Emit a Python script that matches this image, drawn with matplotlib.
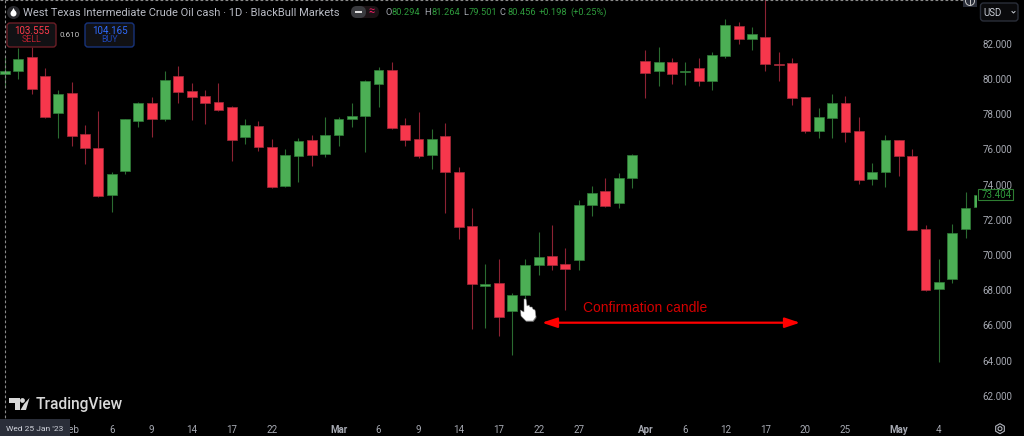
#!/usr/bin/env python3
import matplotlib
matplotlib.use("Agg")
import matplotlib.pyplot as plt
from matplotlib.patches import FancyBboxPatch, Polygon, Circle, RegularPolygon, Rectangle

plt.rcParams['font.family'] = ['Roboto', 'DejaVu Sans']

opens = [80.29, 80.47, 81.26, 80.16, 78.04, 79.22, 76.85, 76.07, 73.42, 74.78,
         77.62, 78.61, 77.74, 80.16, 79.29, 79.03, 78.67, 78.38, 76.70, 77.34,
         76.13, 73.91, 75.64, 76.53, 75.73, 76.83, 77.74, 77.87, 79.73, 80.52,
         77.36, 76.58, 75.69, 76.75, 74.73, 71.64, 68.21, 68.40, 66.83, 67.74,
         69.44, 69.93, 69.46, 69.69, 72.85, 73.63, 72.93, 74.37, 81.01, 80.43,
         80.94, 80.37, 80.62, 79.86, 81.32, 83.00, 82.25, 82.40, 80.84, 80.90,
         78.99, 77.02, 77.78, 78.61, 77.04, 74.33, 74.73, 76.53, 75.62, 71.45,
         68.08, 68.61, 71.45, 72.74]
highs = [81.26, 81.73, 81.83, 80.60, 79.37, 79.84, 77.38, 78.15, 74.71, 77.70,
         78.70, 78.97, 80.47, 80.75, 79.76, 79.37, 79.76, 78.46, 77.72, 77.62,
         76.56, 76.01, 76.62, 76.81, 77.85, 77.85, 78.63, 79.92, 80.65, 80.96,
         77.79, 78.12, 77.13, 77.49, 74.97, 72.64, 69.48, 69.76, 67.85, 69.75,
         71.30, 71.68, 70.37, 73.12, 73.91, 74.39, 74.65, 75.75, 81.62, 81.79,
         81.20, 80.94, 81.17, 81.51, 83.38, 83.23, 82.96, 84.86, 81.51, 81.17,
         78.99, 78.32, 79.12, 79.01, 77.83, 75.20, 76.81, 76.54, 76.00, 71.68,
         69.75, 71.73, 73.57, 73.50]
lows = [79.50, 80.01, 79.14, 77.76, 76.66, 76.20, 75.14, 73.31, 72.45, 74.59,
        77.25, 76.70, 77.62, 78.65, 77.66, 77.43, 78.19, 75.33, 76.30, 75.92,
        73.82, 73.87, 74.12, 75.05, 75.56, 76.18, 77.26, 75.86, 78.38, 77.13,
        76.20, 75.50, 74.88, 72.40, 70.88, 65.81, 65.86, 65.41, 64.33, 67.00,
        68.87, 69.14, 66.89, 69.14, 72.23, 72.74, 72.68, 73.82, 78.93, 79.61,
        79.73, 79.65, 79.61, 79.39, 81.20, 82.00, 81.64, 80.47, 79.90, 78.51,
        76.92, 76.66, 76.66, 76.43, 74.01, 73.97, 73.84, 74.46, 71.41, 67.93,
        63.93, 68.42, 70.96, 72.60]
closes = [80.46, 81.13, 79.40, 77.83, 79.12, 76.77, 76.09, 73.36, 74.61, 77.70,
          78.61, 77.74, 79.92, 79.27, 78.95, 78.65, 78.23, 76.51, 77.36, 76.11,
          73.84, 75.65, 76.45, 75.69, 76.81, 77.72, 77.89, 79.86, 80.50, 77.19,
          76.51, 75.64, 76.58, 74.69, 71.58, 68.32, 68.34, 66.49, 67.72, 69.44,
          69.86, 69.44, 69.21, 72.83, 73.53, 72.77, 74.35, 75.67, 80.35, 80.98,
          80.28, 80.43, 79.86, 81.35, 83.04, 82.26, 82.57, 80.86, 80.81, 78.91,
          77.02, 77.85, 78.61, 77.00, 74.23, 74.69, 76.53, 75.60, 71.41, 68.02,
          68.49, 71.22, 72.66, 73.40]

date_ticks = [5, 8, 11, 14, 17, 20, 25, 28, 31, 34, 37, 40, 43, 48, 51, 54, 57, 60, 63, 67, 70]
date_labels = ['Feb', '6', '9', '14', '17', '22', 'Mar', '6', '9', '14', '17', '22', '27',
               'Apr', '6', '12', '17', '20', '25', 'May', '4']
price_ticks = [62, 64, 66, 68, 70, 72, 74, 76, 78, 80, 82]

RED = '#f7374c'
GREEN = '#4caf55'
RED_WICK = '#8c2233'
GREEN_WICK = '#2a6b30'
GREY = '#a6a9b2'


def draw_candles(ax):
    for i, (o, h, l, c) in enumerate(zip(opens, highs, lows, closes)):
        up = c >= o
        ax.vlines(i, l, h, color=GREEN_WICK if up else RED_WICK, lw=0.8, zorder=2)
        # very thin bodies still need to show up as a dash
        ax.bar(i, max(abs(c - o), 0.05), bottom=min(o, c), width=0.74,
               color=GREEN if up else RED, edgecolor='#2f7d38' if up else '#a52a3a',
               lw=0.5, zorder=3)


def box(ov, x0, y0, x1, y1, edge, face, r=3, lw=1.0):
    ov.add_patch(FancyBboxPatch((x0 + r, y0 + r), x1 - x0 - 2 * r, y1 - y0 - 2 * r,
                                boxstyle=f"round,pad={r},rounding_size={r}",
                                ec=edge, fc=face, lw=lw))


def draw_header(ov):
    # drop icon
    ov.add_patch(Circle((13.5, 12.5), 6.5, fc='#2a2a2e', ec='none'))
    ov.add_patch(Circle((13.5, 13.5), 3, fc='white', ec='none'))
    ov.add_patch(Polygon([(11, 12.5), (13.5, 8), (16, 12.5)], fc='white', ec='none'))
    ov.text(23, 12.5, 'West Texas Intermediate Crude Oil cash · 1D · BlackBull Markets',
            color='#b8bbc4', fontsize=8.0, va='center', ha='left')

    # toggle pill
    box(ov, 351, 6, 379, 18, 'none', '#1c1316', r=6)
    box(ov, 351, 6, 366, 18, 'none', '#3a3b3f', r=6)
    ov.add_patch(Rectangle((355, 11), 7, 2, fc='#e0e0e0', ec='none'))
    ov.text(372, 11.5, '≈', color='#e91e63', fontsize=8, ha='center', va='center')

    parts = [(385, 'O', GREY), (392, '80.294', '#2e9a3c'), (424, 'H', GREY),
             (431, '81.264', '#2e9a3c'), (463, 'L', GREY), (469, '79.501', '#2e9a3c'),
             (500, 'C', GREY), (507, '80.456', '#2e9a3c'),
             (539, '+0.198', '#2e9a3c'), (570, '(+0.25%)', '#2e9a3c')]
    for x, s, col in parts:
        ov.text(x, 12.5, s, color=col, fontsize=6.7, va='center', ha='left')

    # sell / buy buttons
    box(ov, 7, 23, 56, 47, '#6a1e26', '#111114')
    ov.text(31.5, 30.5, '103.555', color='#ff3b4b', fontsize=7, ha='center', va='center')
    ov.text(31.5, 40, 'SELL', color='#b8202e', fontsize=6.4, ha='center', va='center')
    ov.text(70, 35, '0.610', color='#c8c8c8', fontsize=5.8, ha='center', va='center')
    box(ov, 85, 23, 134, 47, '#17337a', '#111114')
    ov.text(109.5, 30.5, '104.165', color='#2f6bff', fontsize=7, ha='center', va='center')
    ov.text(109.5, 40, 'BUY', color='#1e46b4', fontsize=6.4, ha='center', va='center')


def draw_axis_extras(ov):
    # crosshair lines
    ov.plot([4.7, 4.7], [0, 419], color='#8a8a8a', lw=0.8, ls=(0, (2.5, 2)))
    ov.plot([0, 963], [0.5, 0.5], color='#8a8a8a', lw=0.8, ls=(0, (2.5, 2)))

    # date label under the crosshair
    ov.add_patch(Rectangle((0, 419), 70, 17, fc='#2a2e39', ec='none'))
    ov.text(6, 429, "Wed 25 Jan '23", color='#d1d4dc', fontsize=6.0, va='center', ha='left')

    # plus button, currency box, price tag, gear
    ov.add_patch(Rectangle((963, 0), 14, 7, fc='#2a2e39', ec='none'))
    ov.add_patch(Circle((970, 1), 4.5, fc='none', ec='#c8c8c8', lw=0.7))
    ov.plot([970, 970], [0, 4], color='#c8c8c8', lw=0.7)
    box(ov, 980.5, 3, 1018, 21, '#2a2e39', '#0a0a0c')
    ov.text(983, 12.5, 'USD', color='#c8ccd4', fontsize=7, va='center', ha='left')
    ov.plot([1012, 1013.5, 1015], [11.5, 13, 11.5], color='#c8ccd4', lw=0.7)
    ov.add_patch(Rectangle((977.5, 189.5), 35.5, 11, fc='black', ec='#2e7d32', lw=0.8))
    ov.text(997, 195.3, '73.404', color='#2f9a3c', fontsize=7, ha='center', va='center')
    ov.add_patch(RegularPolygon((1000, 428.7), 6, radius=5, fc='none', ec='#b2b5be', lw=0.8))
    ov.add_patch(Circle((1000, 428.7), 2, fc='none', ec='#b2b5be', lw=0.8))


def draw_logo(ov):
    ov.add_patch(Polygon([(9, 398), (20, 398), (20, 410), (15, 410), (15, 403), (9, 403)],
                         fc='#d8d8d8', ec='none'))
    ov.add_patch(Circle((22.5, 400.5), 2.4, fc='#d8d8d8', ec='none'))
    ov.add_patch(Polygon([(24, 404), (29.5, 398), (26, 410), (20.5, 410)], fc='#d8d8d8', ec='none'))
    ov.text(36, 404, 'TradingView', color='#d8d8d8', fontsize=11.2, weight='medium',
            va='center', ha='left')


def draw_annotation(ov):
    ov.annotate('', xy=(800, 322.7), xytext=(542, 322.7),
                arrowprops=dict(arrowstyle='<|-|>,head_length=0.9,head_width=0.3',
                                color='#ff0000', lw=1.6, shrinkA=0, shrinkB=0))
    ov.text(583, 307.5, 'Confirmation candle', color='#d40000', fontsize=10,
            family='Liberation Sans', va='center', ha='left')

    # hand cursor with a soft shadow under it
    hand = [(524, 299), (526, 299), (527, 306), (529, 305), (530, 307), (532, 307), (533, 309),
            (535, 310), (536, 317), (533, 321), (526, 321), (521, 316), (520.5, 310), (524, 312)]
    ov.add_patch(Polygon([(x + 0.5, y + 1) for x, y in hand], fc='#555555', ec='none'))
    ov.add_patch(Polygon(hand, fc='white', ec='#777777', lw=0.4))


def main():
    fig = plt.figure(figsize=(10.24, 4.36), dpi=100, facecolor='black')

    # chart pane ends where the price scale and date scale begin
    ax = fig.add_axes([0, 17 / 436, 977 / 1024, 419 / 436], facecolor='black')
    ax.set_xlim(-0.375, 72.86)
    ax.set_ylim(60.68, 84.48)
    draw_candles(ax)

    ax.set_xticks(date_ticks, date_labels)
    ax.yaxis.tick_right()
    ax.set_yticks(price_ticks, [f"{p:.3f}" for p in price_ticks])
    ax.tick_params(axis='both', length=0, labelsize=7, labelcolor=GREY)
    ax.tick_params(axis='y', pad=4)
    ax.tick_params(axis='x', pad=4)
    for lbl in ax.get_xticklabels():
        if lbl.get_text() in ('Mar', 'Apr', 'May'):
            lbl.set_fontweight('bold')
    for s in ax.spines.values():
        s.set_visible(False)

    # overlay in pixel units for the interface furniture
    ov = fig.add_axes([0, 0, 1, 1], facecolor='none')
    ov.set_xlim(0, 1024)
    ov.set_ylim(436, 0)
    ov.axis('off')
    draw_header(ov)
    draw_axis_extras(ov)
    draw_logo(ov)
    draw_annotation(ov)

    fig.savefig('out.png', dpi=100, facecolor='black')


if __name__ == "__main__":
    main()
